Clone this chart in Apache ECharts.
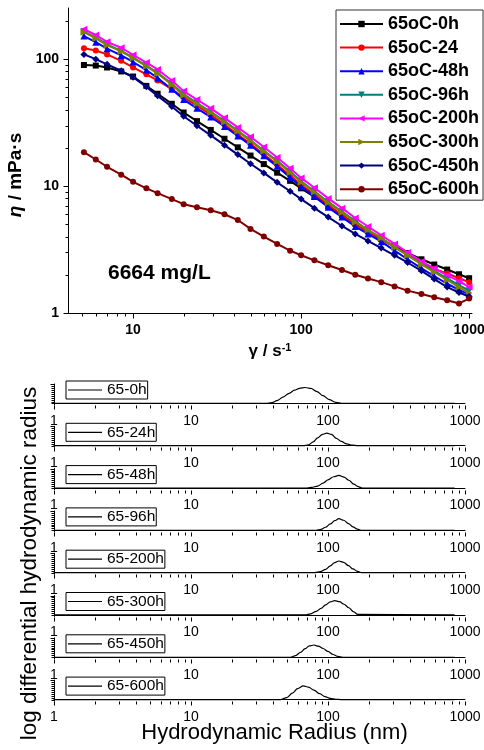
<!DOCTYPE html>
<html><head><meta charset="utf-8">
<script src="https://cdn.jsdelivr.net/npm/echarts@6/dist/echarts.min.js"></script>
<style>html,body{margin:0;padding:0;background:#fff}#c{width:484px;height:750px}</style>
</head><body><div id="c"></div>
<script>
// ---------- Top chart data (viscosity vs shear rate) ----------
const shearRates = [5.1, 6, 7, 8.5, 10, 12, 14, 17, 20, 24, 29, 35, 42, 50, 60, 72, 86, 100, 120, 145, 175, 210, 250, 300, 360, 430, 520, 620, 740, 870, 1000];
const eta0h   = [90, 89, 86, 80, 73, 61.6, 53.4, 44.5, 38, 32.5, 27.7, 23.6, 20.2, 17.4, 14.9, 12.75, 11, 9.6, 8.2, 6.95, 5.9, 5.05, 4.4, 3.82, 3.35, 2.97, 2.65, 2.41, 2.2, 2.02, 1.88];
const eta24h  = [122, 117, 109, 97, 86, 76, 68, 58, 50, 43, 36.5, 30.5, 25.5, 21.5, 17.8, 14.7, 12.1, 10.2, 8.6, 7.1, 5.9, 5.0, 4.35, 3.8, 3.3, 2.88, 2.5, 2.22, 2.05, 1.88, 1.75];
const eta48h  = [152, 136, 121, 107, 95, 82, 71, 58, 48, 41, 35, 29.5, 24.8, 21, 17.3, 14.3, 11.7, 9.9, 8.3, 6.8, 5.7, 4.8, 4.2, 3.65, 3.1, 2.65, 2.25, 1.95, 1.7, 1.52, 1.4];
const eta96h  = [165, 148, 131, 116, 103, 89, 78, 64, 53, 45, 38.5, 32.5, 27.3, 23, 19, 15.8, 13, 10.9, 9.1, 7.5, 6.3, 5.3, 4.5, 3.9, 3.3, 2.85, 2.45, 2.15, 1.87, 1.66, 1.5];
const eta200h = [172, 155, 137, 123, 108, 94, 83, 68, 56, 48, 41, 34.5, 29, 24.5, 20.3, 16.8, 13.8, 11.6, 9.7, 8.0, 6.7, 5.6, 4.8, 4.1, 3.5, 3.0, 2.55, 2.25, 1.98, 1.78, 1.6];
const eta300h = [163, 146, 129, 115, 102, 88, 77, 63, 52, 44.5, 38, 32, 27, 22.7, 18.8, 15.6, 12.8, 10.7, 9.0, 7.4, 6.2, 5.2, 4.5, 3.9, 3.3, 2.85, 2.42, 2.1, 1.82, 1.6, 1.44];
const eta450h = [109, 100, 91, 81, 72, 60.5, 51.4, 42.3, 35.5, 29.9, 25.1, 21, 17.7, 15, 12.7, 10.7, 9.1, 7.9, 6.7, 5.7, 4.85, 4.2, 3.7, 3.25, 2.85, 2.5, 2.15, 1.85, 1.6, 1.45, 1.35];
const eta600h = [18.5, 16.2, 14.2, 12.3, 10.8, 9.6, 8.8, 7.9, 7.2, 6.8, 6.45, 6.0, 5.4, 4.6, 4.0, 3.5, 3.1, 2.85, 2.6, 2.38, 2.18, 2.0, 1.87, 1.75, 1.62, 1.5, 1.41, 1.33, 1.26, 1.19, 1.3];
const topNames = ['65oC-0h', '65oC-24', '65oC-48h', '65oC-96h', '65oC-200h', '65oC-300h', '65oC-450h', '65oC-600h'];

// ---------- Bottom panels data (size distributions) ----------
const panelNames = ['65-0h', '65-24h', '65-48h', '65-96h', '65-200h', '65-300h', '65-450h', '65-600h'];
const r0h   = [1, 35, 39, 43, 47, 52, 57, 62, 68, 75, 83, 92, 102, 114, 128, 840];
const d0h   = [0, 0, 0.04, 0.16, 0.33, 0.52, 0.68, 0.78, 0.82, 0.77, 0.61, 0.4, 0.2, 0.06, 0, 0];
const r24h  = [1, 66, 72, 78, 84, 91, 98, 106, 115, 125, 137, 150, 165, 840];
const d24h  = [0, 0, 0.05, 0.2, 0.4, 0.58, 0.65, 0.58, 0.38, 0.22, 0.1, 0.03, 0, 0];
const r48h  = [1, 68, 76, 84, 92, 100, 110, 120, 131, 142, 154, 166, 178, 840];
const d48h  = [0, 0, 0.03, 0.1, 0.25, 0.42, 0.58, 0.65, 0.56, 0.4, 0.2, 0.07, 0, 0];
const r96h  = [1, 82, 89, 96, 104, 112, 120, 130, 141, 152, 164, 176, 840];
const d96h  = [0, 0, 0.05, 0.16, 0.33, 0.5, 0.6, 0.52, 0.35, 0.18, 0.06, 0, 0];
const r200h = [1, 80, 88, 96, 104, 112, 120, 130, 141, 152, 164, 176, 840];
const d200h = [0, 0, 0.05, 0.17, 0.35, 0.52, 0.6, 0.53, 0.36, 0.19, 0.07, 0, 0];
const r300h = [1, 68, 75, 82, 89, 96, 104, 112, 121, 131, 142, 153, 165, 840];
const d300h = [0, 0, 0.06, 0.18, 0.34, 0.52, 0.67, 0.74, 0.68, 0.55, 0.37, 0.17, 0.03, 0];
const r450h = [1, 53, 58, 63, 68, 73, 79, 85, 92, 100, 109, 118, 128, 840];
const d450h = [0, 0, 0.08, 0.25, 0.44, 0.58, 0.63, 0.57, 0.45, 0.3, 0.14, 0.04, 0, 0];
const r600h = [1, 45, 50, 55, 60, 66, 72, 79, 87, 95, 104, 114, 124, 840];
const d600h = [0, 0, 0.1, 0.33, 0.56, 0.7, 0.64, 0.48, 0.3, 0.15, 0.06, 0.01, 0, 0];

// ---------- Tick label values ----------
const topXLabels = [10, 100, 1000];
const topYLabels = [1, 10, 100];
const panelXLabels = [1, 10, 100, 1000];

// ================= build =================
const FF = '"Liberation Sans", Arial, Helvetica, sans-serif';
const isLabel = (arr) => (v) => arr.some(a => Math.abs(a - v) < 1e-6 * a) ? String(Math.round(v)) : '';

function tickSeries(xi, yi, xTicks, yTicks, xOrigin, yOrigin, name) {
  const data = [];
  xTicks.forEach(t => data.push([t[0], yOrigin, 0, t[1]]));
  yTicks.forEach(t => data.push([xOrigin, t[0], 1, t[1]]));
  return {
    type: 'custom', name: name, xAxisIndex: xi, yAxisIndex: yi, silent: true, clip: false, z: 10,
    data: data, encode: { x: 0, y: 1 },
    renderItem: function (params, api) {
      const p = api.coord([api.value(0), api.value(1)]);
      const len = api.value(3);
      const x = Math.round(p[0]) + 0.5, y = Math.round(p[1]) + 0.5;
      const shape = api.value(2) === 1
        ? { x1: x - len, y1: y, x2: x, y2: y }
        : { x1: x, y1: y, x2: x, y2: y + len };
      return { type: 'line', shape: shape, style: { stroke: '#000', lineWidth: 1 } };
    }
  };
}
function logTicks(lo, hi, maj, min) {
  const out = [];
  for (let k = -1; k <= 4; k++) for (let m = 1; m <= 9; m++) {
    const v = m * Math.pow(10, k);
    if (v >= lo * 0.999 && v <= hi * 1.001) out.push([v, m === 1 ? maj : min]);
  }
  return out;
}

const grids = [], xAxes = [], yAxes = [], series = [], legends = [];

// top grid
grids.push({ left: 68, top: 8, right: 12, bottom: 437, outerBoundsMode: 'none' });
xAxes.push({
  type: 'log', gridIndex: 0, min: 4.1, max: 1040,
  axisLine: { show: true, lineStyle: { color: '#000', width: 1 } },
  axisTick: { show: false }, splitLine: { show: false }, minorTick: { show: false },
  axisLabel: { formatter: isLabel(topXLabels), color: '#000', fontWeight: 'bold', fontSize: 14, fontFamily: FF, margin: 10, showMinLabel: true, showMaxLabel: true }
});
yAxes.push({
  type: 'log', gridIndex: 0, min: 1, max: 253,
  axisLine: { show: true, lineStyle: { color: '#000', width: 1 } },
  axisTick: { show: false }, splitLine: { show: false },
  axisLabel: { formatter: isLabel(topYLabels), color: '#000', fontWeight: 'bold', fontSize: 14, fontFamily: FF, margin: 9 }
});
const topData = [eta0h, eta24h, eta48h, eta96h, eta200h, eta300h, eta450h, eta600h];
const topColors = ['#000000', '#FF0000', '#0000FF', '#008080', '#FF00FF', '#808000', '#000080', '#800000'];
const topSymbols = ['rect', 'circle', 'triangle', 'triangle', 'triangle', 'triangle', 'diamond', 'circle'];
const topRot = [0, 0, 0, 180, 90, -90, 0, 0];
const topSize = [6, 6, 7, 7, 7, 7, 7, 6];
topData.forEach((vals, i) => {
  series.push({
    type: 'line', name: topNames[i], xAxisIndex: 0, yAxisIndex: 0,
    data: shearRates.map((x, j) => [x, vals[j]]),
    color: topColors[i], symbol: topSymbols[i], symbolRotate: topRot[i], symbolSize: topSize[i],
    showSymbol: true, lineStyle: { width: 2, color: topColors[i] },
    itemStyle: { color: topColors[i] }, z: 2 + i
  });
});
series.push(tickSeries(0, 0, logTicks(4.1, 1040, 5, 3), logTicks(1, 253, 5, 3), 4.1, 1, 'ticks0'));
legends.push({
  data: topNames, orient: 'vertical', left: 336, top: 10,
  itemWidth: 43, itemHeight: 8, itemGap: 5.6, padding: [5, 4, 2, 3],
  borderColor: '#333', borderWidth: 1, backgroundColor: '#fff',
  textStyle: { color: '#000', fontWeight: 'bold', fontSize: 18, fontFamily: FF, padding: [0, 0, 0, 0] },
  selectedMode: false
});

// bottom panels
const panelR = [r0h, r24h, r48h, r96h, r200h, r300h, r450h, r600h];
const panelD = [d0h, d24h, d48h, d96h, d200h, d300h, d450h, d600h];
for (let i = 0; i < 8; i++) {
  const gi = i + 1;
  const axisY = 405 + 42.3 * i;
  grids.push({ left: 54, right: 19, top: axisY - 21, height: 21, outerBoundsMode: 'none' });
  xAxes.push({
    type: 'log', gridIndex: gi, min: 1, max: 1000,
    axisLine: { show: true, lineStyle: { color: '#000', width: 1 } },
    axisTick: { show: false }, splitLine: { show: false },
    axisLabel: { formatter: isLabel(panelXLabels), color: '#000', fontSize: 14, fontFamily: FF, margin: 9, showMinLabel: true, showMaxLabel: true }
  });
  yAxes.push({
    type: 'value', gridIndex: gi, min: -0.08, max: 1,
    axisLine: { show: true, lineStyle: { color: '#000', width: 1 } },
    axisTick: { show: false }, splitLine: { show: false }, axisLabel: { show: false }
  });
  series.push({
    type: 'line', name: panelNames[i], xAxisIndex: gi, yAxisIndex: gi,
    data: panelR[i].map((x, j) => [x, panelD[i][j]]),
    symbol: 'none', smooth: 0.35, smoothMonotone: 'x', color: '#000',
    lineStyle: { width: 1.2, color: '#000' }, z: 3
  });
  const yt = [];
  for (let k = 0; k <= 10; k++) yt.push([k / 10, (k === 10) ? 4 : 3]);
  series.push(tickSeries(gi, gi, logTicks(1, 1000, 4, 3), yt, 1, -0.08, 'ticks' + gi));
  legends.push({
    data: [{ name: panelNames[i], icon: 'rect' }], orient: 'horizontal', left: 66, top: axisY - 24,
    itemWidth: 34, itemHeight: 1.2, itemGap: 0, padding: [1, 1, 1, 2],
    borderColor: '#000', borderWidth: 1, backgroundColor: '#fff',
    itemStyle: { color: '#000', borderWidth: 0 },
    textStyle: { color: '#000', fontSize: 15.5, fontFamily: FF },
    selectedMode: false
  });
}

const option = {
  animation: false,
  backgroundColor: '#fff',
  grid: grids, xAxis: xAxes, yAxis: yAxes, series: series, legend: legends,
  graphic: [
    { type: 'text', x: 16, y: 175, rotation: Math.PI / 2,
      style: { text: '{i|η}{n| / mPa·s}', align: 'center', verticalAlign: 'middle', fill: '#000',
        rich: { i: { fontStyle: 'italic', fontWeight: 'bold', fontSize: 19, fontFamily: FF, fill: '#000' },
                n: { fontWeight: 'bold', fontSize: 19, fontFamily: FF, fill: '#000' } } } },
    { type: 'text', x: 270, y: 351,
      style: { text: '{a|γ / s}{b|-1}', align: 'center', verticalAlign: 'middle', fill: '#000',
        rich: { a: { fontWeight: 'bold', fontSize: 17, fontFamily: FF, fill: '#000' },
                b: { fontWeight: 'bold', fontSize: 11, fontFamily: FF, fill: '#000', verticalAlign: 'top' } } } },
    { type: 'text', x: 108, y: 273,
      style: { text: '6664 mg/L', align: 'left', verticalAlign: 'middle', fill: '#000', font: 'bold 21px ' + FF } },
    { type: 'text', x: 29.5, y: 563.5, rotation: Math.PI / 2,
      style: { text: 'log differential hydrodynamic radius', align: 'center', verticalAlign: 'middle', fill: '#000', font: '22.5px ' + FF } },
    { type: 'text', x: 274.5, y: 733,
      style: { text: 'Hydrodynamic Radius (nm)', align: 'center', verticalAlign: 'middle', fill: '#000', font: '22px ' + FF } }
  ]
};
const chart = echarts.init(document.getElementById('c'), null, { renderer: 'canvas' });
chart.setOption(option);
</script>
</body></html>
